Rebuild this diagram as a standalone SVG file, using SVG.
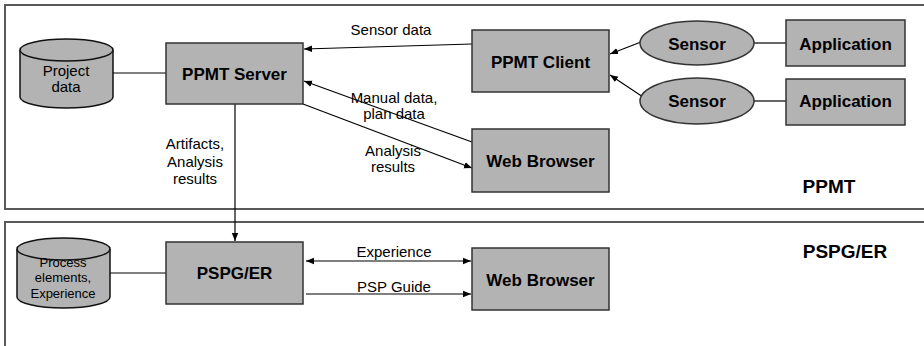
<svg xmlns="http://www.w3.org/2000/svg" width="924" height="346" viewBox="0 0 924 346">
  <style>
    .frame { fill: none; stroke: #5a5a5a; stroke-width: 2; }
    .box { fill: #b3b3b3; stroke: #333; stroke-width: 1.5; }
    .db { fill: #b3b3b3; stroke: #111; stroke-width: 1.5; }
    .bold { font-family: "Liberation Sans", Arial, sans-serif; font-weight: bold; font-size: 17px; fill: #000; text-anchor: middle; }
    .title { font-size: 19px; }
    .lbl { font-family: "Liberation Sans", Arial, sans-serif; font-size: 15px; fill: #000; text-anchor: middle; }
    .small { font-size: 13px; }
    .conn { fill: none; stroke: #000; stroke-width: 1.2; }
  </style>
  <defs>
    <marker id="arr" viewBox="0 0 10 10" refX="10" refY="5" markerWidth="8" markerHeight="8" orient="auto-start-reverse" markerUnits="userSpaceOnUse">
      <path d="M0,1 L10,5 L0,9 z" fill="#000"/>
    </marker>
  </defs>
  <rect width="924" height="346" fill="#fff"/>

  <!-- system frames -->
  <g id="frame-ppmt">
    <path class="frame" d="M926,5 H5 V209 H926"/>
    <text class="bold title" x="829" y="193">PPMT</text>
  </g>
  <g id="frame-pspg">
    <path class="frame" d="M926,222 H5 V348"/>
    <text class="bold title" x="845" y="258">PSPG/ER</text>
  </g>

  <!-- connectors -->
  <g id="connectors">
    <line class="conn" x1="113" y1="73" x2="166" y2="73"/>
    <line class="conn" x1="110" y1="273" x2="166" y2="273"/>
    <line class="conn" x1="472" y1="44" x2="304" y2="49" marker-end="url(#arr)"/>
    <line class="conn" x1="472" y1="142" x2="304" y2="81" marker-end="url(#arr)"/>
    <line class="conn" x1="303" y1="104" x2="472" y2="168" marker-end="url(#arr)"/>
    <line class="conn" x1="641" y1="42" x2="610" y2="54" marker-end="url(#arr)"/>
    <line class="conn" x1="643" y1="97" x2="610" y2="75" marker-end="url(#arr)"/>
    <line class="conn" x1="754" y1="43" x2="786" y2="43"/>
    <line class="conn" x1="754" y1="101" x2="786" y2="101"/>
    <line class="conn" x1="235" y1="104" x2="235" y2="241" marker-end="url(#arr)"/>
    <line class="conn" x1="306" y1="261" x2="471" y2="261" marker-start="url(#arr)" marker-end="url(#arr)"/>
    <line class="conn" x1="306" y1="294" x2="471" y2="294" marker-end="url(#arr)"/>
    <text class="lbl" x="391" y="35">Sensor data</text>
    <text class="lbl" x="394" y="103">Manual data,</text>
    <text class="lbl" x="394" y="119">plan data</text>
    <text class="lbl" x="393" y="156">Analysis</text>
    <text class="lbl" x="393" y="172">results</text>
    <text class="lbl" x="195" y="149">Artifacts,</text>
    <text class="lbl" x="195" y="167">Analysis</text>
    <text class="lbl" x="195" y="184">results</text>
    <text class="lbl" x="394" y="257">Experience</text>
    <text class="lbl" x="394" y="292">PSP Guide</text>
  </g>

  <g id="project-data">
    <path class="db" d="M20,50 A46.5,11 0 0 1 113,50 V97 A46.5,11 0 0 1 20,97 Z"/>
    <path class="db" fill="none" d="M20,50 A46.5,11 0 0 0 113,50"/>
    <text class="lbl" x="66" y="76">Project</text>
    <text class="lbl" x="66" y="92">data</text>
  </g>

  <g id="ppmt-server">
    <rect class="box" x="166" y="43" width="137" height="61"/>
    <text class="bold" x="234.5" y="80">PPMT Server</text>
  </g>

  <g id="ppmt-client">
    <rect class="box" x="472" y="30" width="137" height="62"/>
    <text class="bold" x="540.5" y="68">PPMT Client</text>
  </g>

  <g id="web-browser-1">
    <rect class="box" x="472" y="129" width="137" height="63"/>
    <text class="bold" x="540.5" y="167">Web Browser</text>
  </g>

  <g id="sensor-1">
    <ellipse class="box" cx="697" cy="43" rx="57" ry="22"/>
    <text class="bold" x="697" y="50">Sensor</text>
  </g>
  <g id="sensor-2">
    <ellipse class="box" cx="697" cy="101" rx="57" ry="23"/>
    <text class="bold" x="697" y="107">Sensor</text>
  </g>

  <g id="application-1">
    <rect class="box" x="786" y="20" width="119" height="46"/>
    <text class="bold" x="845.5" y="50">Application</text>
  </g>
  <g id="application-2">
    <rect class="box" x="786" y="79" width="119" height="46"/>
    <text class="bold" x="845.5" y="107">Application</text>
  </g>

  <g id="process-elements">
    <path class="db" d="M17,249 A46.5,11 0 0 1 110,249 V297 A46.5,11 0 0 1 17,297 Z"/>
    <path class="db" fill="none" d="M17,249 A46.5,11 0 0 0 110,249"/>
    <text class="lbl small" x="63" y="267">Process</text>
    <text class="lbl small" x="63" y="282">elements,</text>
    <text class="lbl small" x="63" y="298">Experience</text>
  </g>

  <g id="pspg-er">
    <rect class="box" x="166" y="242" width="137" height="62"/>
    <text class="bold" x="234.5" y="279">PSPG/ER</text>
  </g>

  <g id="web-browser-2">
    <rect class="box" x="472" y="248" width="137" height="62"/>
    <text class="bold" x="540.5" y="286">Web Browser</text>
  </g>
</svg>
